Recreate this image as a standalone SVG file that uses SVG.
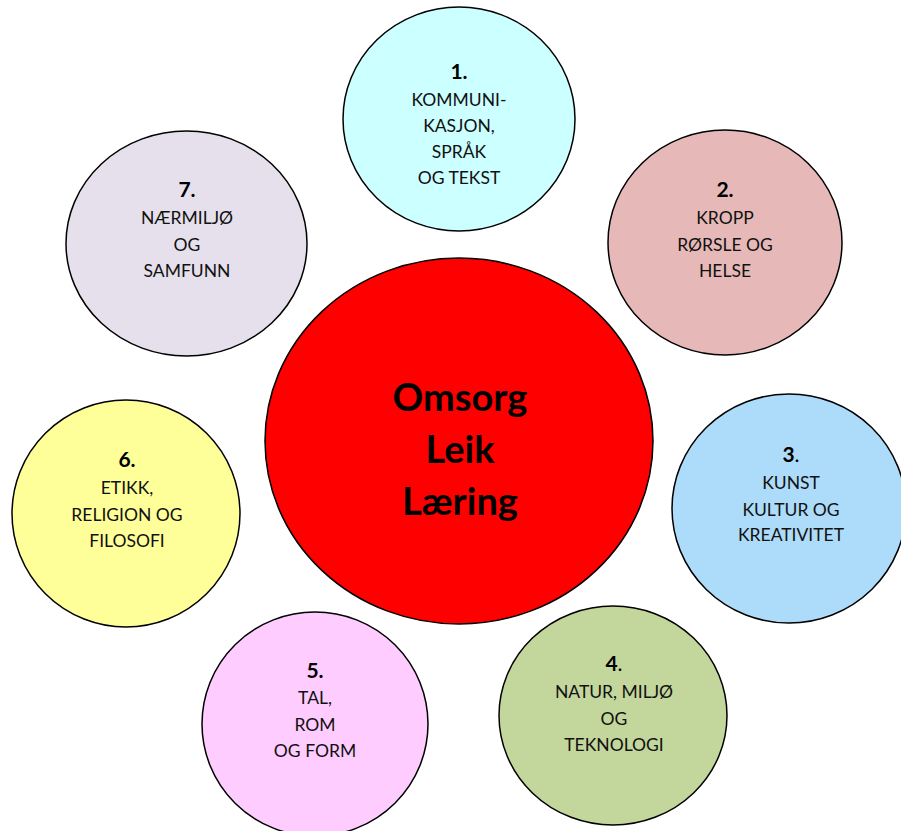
<svg xmlns="http://www.w3.org/2000/svg" width="901" height="831" viewBox="0 0 901 831">
<style>
.c{stroke:#000;stroke-width:1.5}
text{font-family:Lato,"Open Sans",sans-serif;text-anchor:middle;fill:#111}
.n{font-size:21px;font-weight:bold;fill:#000}
.t{font-size:17.5px}
.m{font-size:38px;font-weight:bold;fill:#000}
.r{font-weight:normal}
</style>
<rect width="901" height="831" fill="#fff"/>
<g id="center">
<ellipse class="c" cx="459" cy="441" rx="194" ry="183" fill="#ff0000"/>
<text class="m" x="460" y="411">Omsorg</text>
<text class="m" x="460" y="463">Leik</text>
<text class="m" x="460" y="515">Læring</text>
</g>
<g id="n1">
<ellipse class="c" cx="459" cy="119" rx="116" ry="112" fill="#ccffff"/>
<text class="n" x="459" y="79">1.</text>
<text class="t" x="459" y="106">KOMMUNI-</text>
<text class="t" x="459" y="132">KASJON,</text>
<text class="t" x="459" y="158">SPRÅK</text>
<text class="t" x="459" y="184">OG TEKST</text>
</g>
<g id="n2">
<ellipse class="c" cx="725" cy="242.5" rx="117" ry="112.5" fill="#e6b9b8"/>
<text class="n" x="725" y="197">2.</text>
<text class="t" x="725" y="224">KROPP</text>
<text class="t" x="725" y="251">RØRSLE OG</text>
<text class="t" x="725" y="277">HELSE</text>
</g>
<g id="n3">
<ellipse class="c" cx="789" cy="508.5" rx="117" ry="114.5" fill="#addcfa"/>
<text class="n" x="791" y="462">3<tspan class="r">.</tspan></text>
<text class="t" x="791" y="489">KUNST</text>
<text class="t" x="791" y="516">KULTUR OG</text>
<text class="t" x="791" y="541">KREATIVITET</text>
</g>
<g id="n4">
<ellipse class="c" cx="613" cy="715.5" rx="114" ry="109.5" fill="#c3d69b"/>
<text class="n" x="614" y="671">4<tspan class="r">.</tspan></text>
<text class="t" x="614" y="698">NATUR, MILJØ</text>
<text class="t" x="614" y="725">OG</text>
<text class="t" x="614" y="751">TEKNOLOGI</text>
</g>
<g id="n5">
<ellipse class="c" cx="315" cy="724" rx="113" ry="112" fill="#ffccff"/>
<text class="n" x="315" y="678">5.</text>
<text class="t" x="315" y="704">TAL,</text>
<text class="t" x="315" y="731">ROM</text>
<text class="t" x="315" y="757">OG FORM</text>
</g>
<g id="n6">
<ellipse class="c" cx="126" cy="513.5" rx="114" ry="113.5" fill="#ffff99"/>
<text class="n" x="127" y="467">6.</text>
<text class="t" x="127" y="494">ETIKK,</text>
<text class="t" x="127" y="521">RELIGION OG</text>
<text class="t" x="127" y="547">FILOSOFI</text>
</g>
<g id="n7">
<ellipse class="c" cx="186.5" cy="243.5" rx="120.5" ry="112.5" fill="#e6e0ec"/>
<text class="n" x="187" y="197">7.</text>
<text class="t" x="187" y="224">NÆRMILJØ</text>
<text class="t" x="187" y="251">OG</text>
<text class="t" x="187" y="277">SAMFUNN</text>
</g>
<g id="connectors"></g>
</svg>
